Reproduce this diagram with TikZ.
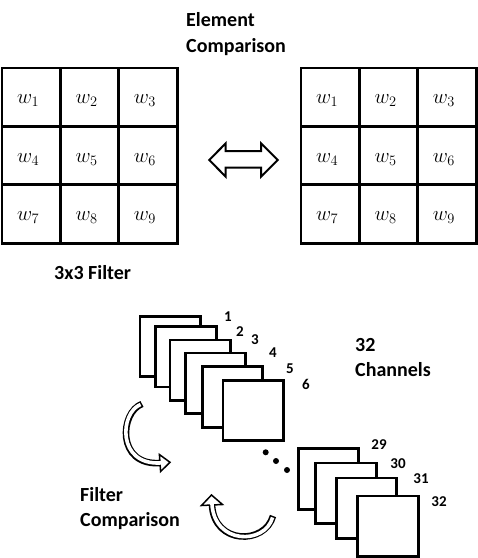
\documentclass[tikz,border=0pt]{standalone}
\usepackage{fontspec}
\setmainfont{Carlito}
\begin{document}
\begin{tikzpicture}[x=1pt,y=-1pt,
  cell/.style={draw, line width=2.7pt, minimum size=58.4pt, inner sep=0pt},
  wlab/.style={anchor=base, inner sep=0pt, font=\fontsize{21}{25}\selectfont},
  lab/.style={anchor=base west, inner sep=0pt, font=\fontsize{20}{24}\selectfont\bfseries},
  num/.style={anchor=base, inner sep=0pt, font=\fontsize{15}{18}\selectfont\bfseries},
  sheet/.style={draw, fill=white, line width=2.7pt, minimum size=60.5pt, inner sep=0pt},
  band/.style={line width=6.6pt},
  bandin/.style={white, line width=3.6pt},
  head/.style={fill=white, draw=black, line width=1.5pt, line join=miter},
  dblarrow/.style={draw, line width=2pt, line join=miter, fill=white},
  dot/.style={circle, fill=black, inner sep=0pt, minimum size=6pt}
]
\useasboundingbox (0,0) rectangle (478,558);

% left 3x3 filter
\foreach \r in {0,1,2} {
  \foreach \c in {0,1,2} {
    \pgfmathtruncatemacro\k{3*\r+\c+1}
    \node[cell] (A\k) at ({31.2+58.4*\c},{97.2+58.4*\r}) {};
    \node[wlab] (wa\k) at ([xshift=-3pt,yshift=-6.5pt]A\k.center) {$w_{\k}$};
  }
}
% right 3x3 filter
\foreach \r in {0,1,2} {
  \foreach \c in {0,1,2} {
    \pgfmathtruncatemacro\k{3*\r+\c+1}
    \node[cell] (B\k) at ({330.2+58.4*\c},{97.2+58.4*\r}) {};
    \node[wlab] (wb\k) at ([xshift=-3pt,yshift=-6.5pt]B\k.center) {$w_{\k}$};
  }
}

% element comparison double arrow
\draw[dblarrow] (209.3,160) -- (225.7,143.3) -- (225.7,151) -- (261,151) -- (261,143.3)
  -- (277.7,160) -- (261,176.7) -- (261,167.7) -- (225.7,167.7) -- (225.7,176.7) -- cycle;

% texts
\node[lab] (el1) at (186,26) {Element};
\node[lab] (el2) at (186,52) {Comparison};
\node[lab] (f33) at (54,279) {3x3 Filter};
\node[lab] (ch1) at (355,351.7) {32};
\node[lab] (ch2) at (355,376.7) {Channels};
\node[lab] (fc1) at (80,501.7) {Filter};
\node[lab] (fc2) at (80,526.7) {Comparison};

% channel sheets 1-6
\node[sheet] (S1) at (170.3,346.5) {};
\node[sheet] (S2) at (185.9,356.7) {};
\node[sheet] (S3) at (200.3,370.3) {};
\node[sheet] (S4) at (215.5,383.3) {};
\node[sheet] (S5) at (232.5,397) {};
\node[sheet] (S6) at (253.2,410.5) {};
\node[num] (n1) at (228,321) {1};
\node[num] (n2) at (240,336) {2};
\node[num] (n3) at (255,344) {3};
\node[num] (n4) at (273,357) {4};
\node[num] (n5) at (290,373) {5};
\node[num] (n6) at (306,389) {6};

% dots
\node[dot] (d1) at (265.7,452.3) {};
\node[dot] (d2) at (276,461) {};
\node[dot] (d3) at (287,470) {};

% channel sheets 29-32
\node[sheet] (T29) at (328.5,479) {};
\node[sheet] (T30) at (345.9,493.3) {};
\node[sheet] (T31) at (366.5,508.3) {};
\node[sheet] (T32) at (387.9,526.3) {};
\node[num] (n29) at (379,449) {29};
\node[num] (n30) at (398,468) {30};
\node[num] (n31) at (421,483) {31};
\node[num] (n32) at (439,506) {32};

% curved hollow arrow 1
\draw[band] (142,404) .. controls (120,412) and (116,466) .. (160,463);
\filldraw[head] (159.4,454.5) -- (170,462.3) -- (160.6,471.5) -- cycle;
\draw[bandin, shorten <=1.5pt, shorten >=-1.5pt] (142,404) .. controls (120,412) and (116,466) .. (160,463);

% curved hollow arrow 2
\draw[band] (273,516) .. controls (265,545) and (214,545) .. (212,505);
\filldraw[head] (222.5,504.5) -- (211.5,495) -- (201.5,505.5) -- cycle;
\draw[bandin, shorten <=1.5pt, shorten >=-1.5pt] (273,516) .. controls (265,545) and (214,545) .. (212,505);
\end{tikzpicture}
\end{document}
